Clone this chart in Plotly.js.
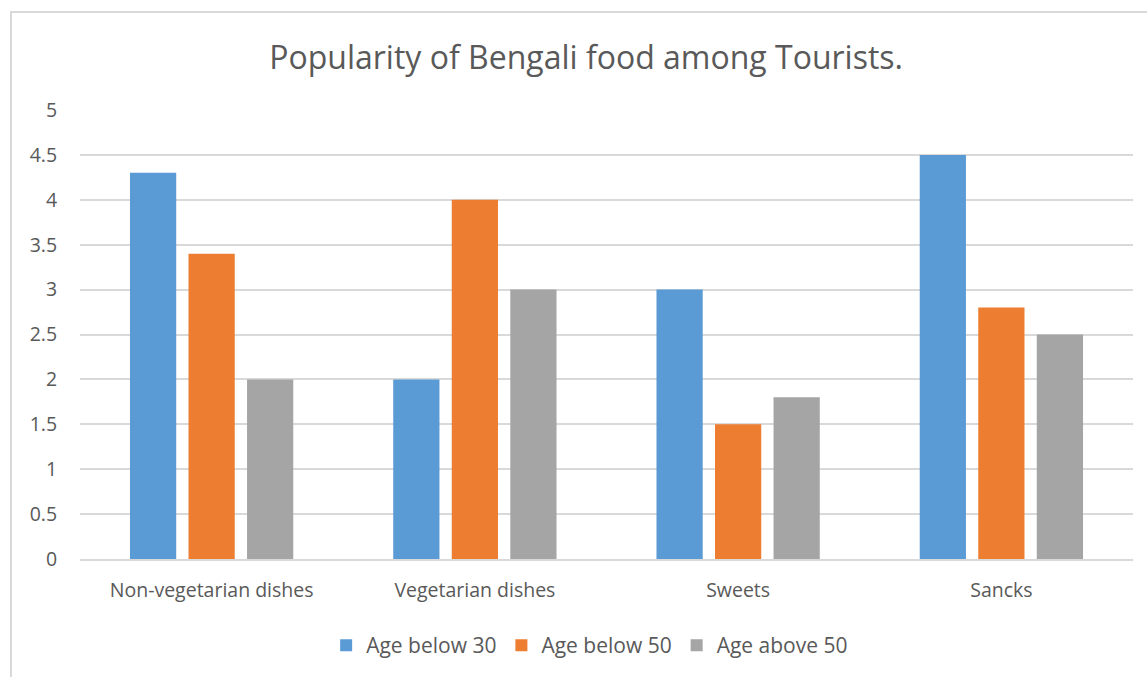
<!DOCTYPE html>
<html>
<head>
<meta charset="utf-8">
<script src="https://cdn.plot.ly/plotly-3.0.1.min.js"></script>
<style>
html,body{margin:0;padding:0;background:#fff;}
#frame{position:absolute;left:10px;top:11px;width:1200px;height:700px;border-left:2px solid #d9d9d9;border-top:2px solid #d9d9d9;box-sizing:border-box;pointer-events:none;z-index:5;}
#chart{width:1147px;height:677px;}
</style>
</head>
<body>
<div id="frame"></div>
<div id="chart"></div>
<script>
const categories = ["Non-vegetarian dishes", "Vegetarian dishes", "Sweets", "Sancks"];
const seriesNames = ["Age below 30", "Age below 50", "Age above 50"];
const ageBelow30 = [4.3, 2, 3, 4.5];
const ageBelow50 = [3.4, 4, 1.5, 2.8];
const ageAbove50 = [2, 3, 1.8, 2.5];
const colors = ["#5b9bd5", "#ed7d31", "#a5a5a5"];
const yTicks = [0, 0.5, 1, 1.5, 2, 2.5, 3, 3.5, 4, 4.5, 5];

const values = [ageBelow30, ageBelow50, ageAbove50];
const traces = values.map((v, i) => ({
  type: "bar",
  name: seriesNames[i],
  x: categories,
  y: v,
  marker: {color: colors[i]},
  hoverinfo: "x+y+name"
}));

const font = "'Open Sans', sans-serif";
const layout = {
  width: 1147, height: 677,
  margin: {l: 80, r: 14, t: 110, b: 117},
  paper_bgcolor: "#ffffff", plot_bgcolor: "#ffffff",
  title: {text: "Popularity of Bengali food among Tourists.", font: {family: font, size: 32, color: "#595959"}, x: 0.511, xanchor: "center", y: 0.915, yanchor: "middle"},
  barmode: "group", bargap: 0.333, bargroupgap: 0.21,
  xaxis: {tickfont: {family: font, size: 19.5, color: "#595959"}, showline: true, linecolor: "#d9d9d9", linewidth: 2, ticks: "outside", ticklen: 13, tickcolor: "rgba(0,0,0,0)", automargin: false},
  yaxis: {range: [0, 5], tickvals: yTicks, ticktext: yTicks.map(String), tickfont: {family: font, size: 19.5, color: "#595959"}, showgrid: true, gridcolor: "#d9d9d9", gridwidth: 1.5, zeroline: false, showline: false, ticks: "outside", ticklen: 18, tickcolor: "rgba(0,0,0,0)", automargin: false},
  legend: {orientation: "h", x: 0.484, xanchor: "center", y: -0.19, yanchor: "middle", font: {family: font, size: 21, color: "#595959"}, itemwidth: 30, traceorder: "normal"},
  showlegend: true
};
Plotly.newPlot("chart", traces, layout, {displayModeBar: false, staticPlot: false});
</script>
</body>
</html>
